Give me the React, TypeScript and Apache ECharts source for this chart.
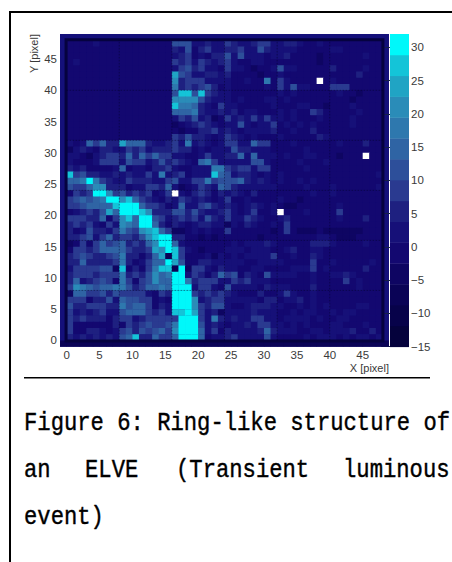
import React, { useEffect, useRef } from "react";
import * as echarts from "echarts";

// Heat-map values, top row (y = 47) first; null = white dead pixel.
const rows: (number | null)[][] = [
/*47*/[0,0,0,0,3,0,0,0,0,0,0,0,0,0,0,0, 11,12,11,2,3,5,3,3,8,5,2,3,5,8,9,1, 3,5,4,1,0,0,1,0,0,-1,0,0,0,0,0,0],
/*46*/[0,0,0,0,0,0,0,0,0,0,0,0,0,0,0,0, 6,3,11,-1,5,9,3,1,6,4,10,1,1,12,4,1, 1,1,2,0,-1,0,-2,-2,1,2,0,0,-1,0,0,0],
/*45*/[0,0,0,0,0,0,0,0,0,0,0,0,0,0,0,0, 3,4,10,0,3,-1,6,4,11,3,12,2,1,3,-2,1, 1,5,0,0,-1,0,-3,-2,0,0,0,0,0,1,0,0],
/*44*/[0,3,0,0,0,0,0,0,0,0,0,0,0,0,0,0, 8,4,7,3,7,5,1,4,9,3,0,-1,2,1,0,-2, 0,-2,-1,0,-2,-2,-3,-1,0,-1,0,0,0,0,0,0],
/*43*/[0,0,0,0,0,0,0,0,0,0,0,0,0,0,0,0, 3,10,11,5,8,1,3,-1,10,1,1,-2,-3,0,-1,1, 12,2,1,0,0,-1,-2,-1,6,0,0,0,0,1,0,-1],
/*42*/[0,0,0,0,0,0,0,0,0,0,0,0,0,0,0,0, 24,11,9,3,3,5,4,1,4,0,0,-1,-2,-3,-1,0, 1,0,0,0,-2,-2,-1,-1,0,-1,0,0,4,0,0,0],
/*41*/[0,0,0,0,0,0,0,0,0,0,0,0,0,0,0,0, 22,6,9,9,10,2,1,3,3,-1,0,1,0,-2,18,-1, 10,2,0,0,0,0,null,0,1,0,0,0,0,0,0,-1],
/*40*/[0,0,0,0,0,0,0,0,0,0,0,0,0,0,0,0, 18,4,10,6,7,11,4,0,2,0,-1,0,-1,-1,3,0, 10,1,13,3,1,0,0,0,7,7,8,0,0,0,-1,0],
/*39*/[0,0,0,0,0,0,0,0,0,0,0,0,0,0,0,0, 13,26,27,12,28,9,5,3,1,-1,0,0,0,-1,0,0, 1,0,1,0,0,0,0,-1,0,1,0,-2,-3,0,0,0],
/*38*/[0,0,0,0,0,0,0,0,0,0,0,0,0,0,0,0, 20,21,22,20,11,6,1,2,3,0,1,0,0,-1,1,1, 0,1,0,0,-1,-1,-1,0,-1,0,0,-3,-1,0,0,-1],
/*37*/[0,0,0,0,0,0,0,0,0,0,0,0,0,0,0,0, 27,18,19,14,6,1,0,7,3,1,-1,0,0,0,0,1, 0,0,0,1,1,-1,-2,-3,0,-1,-2,1,0,0,-1,-2],
/*36*/[0,0,0,0,0,0,0,0,0,0,0,0,0,0,0,0, 15,14,14,17,6,3,3,6,1,4,0,1,3,-1,0,0, 1,0,1,0,-1,7,6,0,0,0,0,0,1,0,0,-1],
/*35*/[0,0,0,0,0,0,0,0,0,0,0,0,0,0,0,0, 3,10,6,12,3,4,-3,0,10,2,6,1,10,2,8,1, 1,-1,1,0,0,0,1,0,-1,0,0,1,0,0,-1,-2],
/*34*/[0,0,0,0,0,0,0,0,0,0,0,0,0,0,0,0, -3,-2,3,6,7,6,3,0,1,2,13,2,0,1,1,10, 0,1,0,1,-1,1,-1,0,0,-1,0,1,0,0,0,-1],
/*33*/[0,0,0,0,0,0,0,0,0,0,0,0,0,0,0,0, -1,-3,-2,0,5,6,7,3,6,3,0,2,1,2,1,6, 0,0,1,0,0,4,0,-1,0,-1,0,0,0,0,0,-2],
/*32*/[0,0,0,0,0,0,0,0,0,0,0,0,0,0,0,0, 8,5,11,5,6,2,0,1,8,4,1,0,2,0,0,-1, 1,0,-1,0,0,0,5,1,0,-1,0,0,0,0,0,0],
/*31*/[3,-2,2,15,7,16,5,6,23,14,14,15,5,2,3,5, 8,2,17,3,6,2,0,1,8,9,1,2,16,8,8,0, 0,0,1,-1,0,-1,0,0,0,1,0,0,0,5,0,-2],
/*30*/[-4,1,4,3,-1,5,4,3,2,9,6,9,3,4,6,6, 9,5,4,0,1,-2,2,3,1,11,5,4,3,1,1,0, -1,-2,0,-1,1,0,0,0,-1,0,0,0,-1,0,0,0],
/*29*/[3,2,0,-3,1,5,8,7,4,15,4,14,9,16,7,9, 2,2,-1,0,2,7,1,3,6,6,14,3,15,1,2,1, 0,1,-1,0,2,1,0,-1,-1,-3,0,0,0,null,0,0],
/*28*/[3,-2,-2,-1,3,7,10,7,3,11,7,9,3,6,12,5, 8,4,2,-1,15,17,7,1,1,1,3,1,12,12,3,0, 0,-2,0,1,0,0,0,1,0,-1,-2,0,0,-1,0,0],
/*27*/[6,3,4,0,-1,-2,-1,1,14,-1,3,2,0,6,4,7, 1,-2,0,1,3,3,17,18,7,6,8,8,2,8,8,0, -1,0,0,0,1,-1,-2,0,0,0,0,0,0,0,-2,0],
/*26*/[27,10,13,6,4,2,1,6,3,5,2,1,10,3,17,3, 4,9,-2,2,1,2,27,14,13,3,5,4,3,0,1,0, 1,0,0,0,0,0,-1,-1,-1,0,0,0,0,-2,0,1],
/*25*/[15,15,17,31,19,8,4,3,3,8,5,4,4,3,2,9, 13,2,1,7,9,18,7,13,11,11,15,6,3,4,2,0, 1,0,0,1,-1,1,0,0,-1,0,0,0,0,-2,-1,0],
/*24*/[13,9,8,15,20,20,6,4,6,0,2,3,8,9,4,15, 2,-3,-2,3,7,4,2,14,11,4,2,3,2,2,1,1, 0,0,-1,0,1,0,0,0,1,0,-1,-1,0,0,0,1],
/*23*/[-2,8,6,9,31,31,20,8,11,5,9,4,7,-2,1,7, null,2,-1,4,8,4,0,4,3,5,1,0,4,0,0,-1, 0,-1,-1,0,0,1,0,0,1,0,-1,-2,0,-2,0,0],
/*22*/[10,13,14,13,14,18,31,31,21,26,15,8,5,3,-1,5, 1,9,4,2,5,3,0,3,8,-1,0,1,0,0,-1,0, 1,-1,-2,-3,0,0,0,0,0,-1,-2,-1,0,0,0,0],
/*21*/[8,10,13,14,15,15,16,26,30,32,31,14,8,9,5,0, 3,15,3,3,8,11,4,1,5,1,0,1,4,1,0,1, -1,-4,-3,0,-1,0,0,-1,0,1,0,-1,-1,0,-1,0],
/*20*/[-1,3,4,10,5,11,25,16,31,32,32,26,22,6,6,5, 13,13,4,12,6,3,2,4,10,3,0,1,7,0,0,1, null,-2,-1,-1,1,0,-1,-1,-1,9,0,0,0,-1,0,0],
/*19*/[8,7,7,5,4,14,0,7,22,26,14,31,31,11,8,3, 6,9,5,8,3,12,6,3,7,3,1,7,5,2,0,-1, 1,4,-1,-1,0,-1,0,0,0,1,0,-1,0,5,0,-1],
/*18*/[5,7,5,9,3,-2,10,3,22,19,15,31,31,16,5,0, 4,3,0,3,5,4,2,1,-5,1,0,4,1,0,0,1, -1,8,-2,-1,0,-2,-1,-1,0,0,0,0,-1,-2,0,-1],
/*17*/[4,-1,3,11,4,6,1,9,18,12,8,20,25,26,15,7, -3,-3,-2,1,0,2,0,0,8,-2,-1,0,-1,-2,-2,-3, -1,7,-2,-4,-3,-3,-1,-3,-3,-3,-3,-3,-3,-2,-1,0],
/*16*/[6,4,9,11,1,7,14,5,10,7,4,11,20,26,32,32, 6,6,0,-1,-3,-2,-3,-2,-1,0,-1,-1,-2,-3,-2,-2, -2,-2,-1,-1,-2,0,1,1,-2,-3,-3,-3,-1,-1,-1,0],
/*15*/[-3,-2,7,0,7,15,7,12,15,6,8,6,14,22,32,32, 15,3,-2,-1,-2,-1,-1,-1,0,1,0,1,1,1,5,3, -1,-1,-1,-2,0,6,5,6,1,0,-1,-1,0,1,0,0],
/*14*/[0,10,10,6,10,14,14,16,14,7,6,5,9,24,20,32, 28,10,2,-1,-3,-2,-2,-1,3,2,1,0,1,2,3,-1, 0,1,5,0,0,1,3,0,0,-1,0,0,-1,0,0,0],
/*13*/[5,7,12,9,4,6,10,11,17,6,4,-2,5,15,23,-8, 28,7,-2,0,0,1,-3,1,0,2,0,1,1,2,1,10, 0,0,1,0,0,5,1,0,0,0,0,0,0,0,-1,0],
/*12*/[4,5,14,5,5,6,6,10,18,5,0,3,10,16,16,32, 24,12,-1,-1,6,5,2,1,3,1,1,0,-1,2,1,1, 1,0,0,0,0,9,0,0,1,0,0,0,0,0,3,0],
/*11*/[3,9,8,7,10,11,11,-3,26,0,5,-2,7,18,26,26, -7,32,-3,8,9,2,0,4,3,1,0,-1,2,1,-1,0, 0,0,1,2,2,9,0,1,0,0,0,0,0,6,0,0],
/*10*/[6,8,7,10,5,9,10,10,17,4,7,4,13,21,16,17, 32,32,2,7,4,-1,6,15,10,11,0,6,2,0,11,1, 1,2,1,0,0,1,0,0,1,1,4,1,0,0,0,0],
/*9*/ [5,14,1,5,8,11,9,0,17,7,0,9,11,20,15,16, 32,32,19,4,8,9,7,2,1,9,5,10,1,1,1,-1, 0,0,0,0,0,1,0,0,0,0,8,0,2,0,0,0],
/*8*/ [7,22,18,15,12,15,16,17,18,12,5,10,14,16,17,16, 32,32,31,3,10,7,1,0,13,3,2,2,2,0,4,3, 1,1,0,0,0,5,0,0,0,0,0,0,1,0,0,0],
/*7*/ [-3,16,14,7,7,11,6,11,10,7,8,8,3,0,7,4, 32,32,32,10,5,8,5,9,6,2,0,-1,0,4,0,0, 2,10,1,0,0,1,0,0,0,0,0,0,0,0,0,0],
/*6*/ [9,9,8,0,5,4,11,1,16,11,11,9,7,0,1,-2, 32,32,32,20,1,6,9,8,3,1,1,2,3,0,6,5, 0,1,1,5,0,2,0,0,0,0,0,0,0,0,0,0],
/*5*/ [11,5,4,7,10,9,5,5,17,12,15,16,7,0,5,1, 32,32,32,22,7,4,12,13,1,0,-1,2,6,4,4,3, 1,0,0,1,0,3,0,1,0,0,0,0,2,1,0,0],
/*4*/ [7,3,4,3,6,8,2,2,12,14,16,14,9,6,7,3, 26,26,32,24,8,1,5,-3,1,3,1,1,4,3,2,1, 0,0,1,0,1,1,0,0,1,0,1,3,0,0,0,0],
/*3*/ [9,6,7,5,4,5,-1,5,10,7,1,6,7,9,10,8, 7,32,32,32,9,1,19,4,3,4,1,3,9,9,3,1, 0,1,1,1,2,0,1,0,0,3,1,0,0,0,0,0],
/*2*/ [7,-1,-1,-1,0,-2,-1,4,-2,9,5,9,12,7,9,12, 18,32,32,32,12,2,4,3,0,2,2,4,3,8,9,3, 1,0,1,0,1,0,0,0,2,1,0,0,0,1,0,0],
/*1*/ [7,-2,-2,4,5,1,0,1,9,12,5,13,9,11,14,10, 21,32,32,32,16,3,8,-1,6,1,3,1,1,4,14,4, 1,1,2,0,0,1,2,0,1,1,3,4,0,0,4,0],
/*0*/ [6,2,4,3,5,2,5,1,12,16,26,5,6,16,10,9, 15,32,32,32,16,-2,3,1,6,9,1,3,3,3,13,2, 0,0,0,0,1,0,1,3,1,0,2,0,1,1,0,1],
];

const xTickLabels = [0, 5, 10, 15, 20, 25, 30, 35, 40, 45];
const yTickLabels = [0, 5, 10, 15, 20, 25, 30, 35, 40, 45];
const colorTicks = [-15, -10, -5, 0, 5, 10, 15, 20, 25, 30];
const gridDots = [8, 16, 24, 32, 40];
const colorMin = -15;
const colorMax = 32;
const bandColors = [
  "#05023c", "#07024a", "#0a0356", "#0e0562", "#130870",
  "#161078", "#1e2080", "#2a3a90", "#2d4f9a", "#2f64a4",
  "#2e78ae", "#2a8cb8", "#20a4c4", "#14c4d8", "#00f8fa",
];

const bandWidth = (colorMax - colorMin) / bandColors.length;
const colorOf = (v: number) => {
  const i = Math.min(bandColors.length - 1, Math.max(0, Math.floor((v - colorMin) / bandWidth)));
  return bandColors[i];
};

const cells: any[] = [];
rows.forEach((row, ri) => {
  const y = rows.length - 1 - ri;
  row.forEach((v, x) => cells.push([x, y, v === null ? 999 : v]));
});
// underflow strip below the map
for (let x = -1; x < 49; x++) cells.push([x, -1, -7]);

const captionFont = '"Liberation Mono", "DejaVu Sans Mono", monospace';
const axisFont = '"Liberation Sans", Arial, sans-serif';
const caption = (text: string, x: number, y: number) => ({
  type: "text", x, y, scaleY: 1.18,
  style: { text, font: `22.2px ${captionFont}`, fill: "#000", stroke: "#000", lineWidth: 0.35 },
});

export default function App() {
  const ref = useRef<HTMLDivElement>(null);
  useEffect(() => {
    const chart = echarts.init(ref.current!, null, { renderer: "svg" });
    const labelStyle = { color: "#3a3a3a", fontSize: 11.5, fontFamily: axisFont };
    chart.setOption({
      animation: false,
      backgroundColor: "#fff",
      grid: [
        { left: 60, top: 34, width: 329, height: 312.7, show: true, backgroundColor: "#14107a", borderWidth: 0 },
        { left: 390, top: 34, width: 19, height: 312.7, show: false },
      ],
      xAxis: [
        {
          gridIndex: 0, type: "value", min: -1, max: 49,
          axisLine: { show: false }, axisTick: { show: false }, splitLine: { show: false },
          axisLabel: { ...labelStyle, customValues: xTickLabels, margin: 2 },
          name: "X [pixel]", nameLocation: "end", nameGap: 0, nameMoveOverlap: false,
          nameTextStyle: { ...labelStyle, fontSize: 11, align: "right", verticalAlign: "top", padding: [22, 0, 0, 0] },
        },
        { gridIndex: 1, type: "value", min: 0, max: 1, show: false },
      ],
      yAxis: [
        {
          gridIndex: 0, type: "value", min: -1, max: 49,
          axisLine: { show: false }, axisTick: { show: false }, splitLine: { show: false },
          axisLabel: { ...labelStyle, customValues: yTickLabels, margin: 3 },
          name: "Y [pixel]", nameLocation: "end", nameGap: 0, nameRotate: 90, nameMoveOverlap: false,
          nameTextStyle: { ...labelStyle, fontSize: 11, align: "right", verticalAlign: "bottom", padding: [0, 0, 27, 0] },
        },
        {
          gridIndex: 1, type: "value", position: "right", min: colorMin, max: colorMax,
          axisLine: { show: false },
          axisTick: { show: true, inside: true, length: 9, customValues: colorTicks, lineStyle: { color: "#15204a", width: 1 } },
          splitLine: { show: false },
          axisLabel: {
            ...labelStyle, customValues: colorTicks, margin: 2,
            formatter: (v: number) => String(v).replace("-", "\u2212"),
          },
        },
      ],
      series: [
        {
          type: "custom", xAxisIndex: 0, yAxisIndex: 0, data: cells, clip: true, silent: true,
          encode: { x: 0, y: 1 },
          renderItem: (_p: any, api: any) => {
            const x = api.value(0), y = api.value(1), v = api.value(2);
            const a = api.coord([x, y + 1]);
            const b = api.coord([x + 1, y]);
            return {
              type: "rect",
              shape: { x: a[0], y: a[1], width: b[0] - a[0] + 0.4, height: b[1] - a[1] + 0.4 },
              style: { fill: v === 999 ? "#ffffff" : colorOf(v) },
            };
          },
        },
        {
          // dark frame around the pixel area
          type: "custom", xAxisIndex: 0, yAxisIndex: 0, data: [[0, 48]], silent: true, z: 3,
          encode: { x: 0, y: 1 },
          renderItem: (_p: any, api: any) => {
            const a = api.coord([0, 48]);
            const b = api.coord([48, 0]);
            return {
              type: "rect",
              shape: { x: a[0] - 0.5, y: a[1] - 0.5, width: b[0] - a[0] + 1, height: b[1] - a[1] + 1 },
              style: { fill: "none", stroke: "#05023f", lineWidth: 3 },
            };
          },
        },
        {
          // dotted grid lines
          type: "custom", xAxisIndex: 0, yAxisIndex: 0, data: gridDots.map((p) => [p, p]), silent: true, z: 4,
          encode: { x: 0, y: 1 },
          renderItem: (_p: any, api: any) => {
            const p = api.value(0);
            const s = api.coord([0, 0]);
            const e = api.coord([48, 48]);
            const c = api.coord([p, p]);
            const style = { stroke: "rgba(0,0,30,0.4)", lineWidth: 1, lineDash: [1.5, 1.5], fill: "none" };
            return {
              type: "group",
              children: [
                { type: "line", shape: { x1: c[0], y1: s[1], x2: c[0], y2: e[1] }, style },
                { type: "line", shape: { x1: s[0], y1: c[1], x2: e[0], y2: c[1] }, style },
              ],
            };
          },
        },
        {
          // colour bar
          type: "custom", xAxisIndex: 1, yAxisIndex: 1, silent: true,
          data: bandColors.map((_c, i) => [i, colorMin + i * bandWidth, colorMin + (i + 1) * bandWidth]),
          encode: { y: [1, 2] },
          renderItem: (_p: any, api: any) => {
            const a = api.coord([0, api.value(2)]);
            const b = api.coord([1, api.value(1)]);
            return {
              type: "rect",
              shape: { x: a[0], y: a[1], width: b[0] - a[0], height: b[1] - a[1] + 0.4 },
              style: { fill: bandColors[api.value(0)] },
            };
          },
        },
      ],
      graphic: [
        { type: "rect", shape: { x: 9, y: 11, width: 443, height: 2 }, style: { fill: "#000" } },
        { type: "rect", shape: { x: 9, y: 11, width: 2, height: 551 }, style: { fill: "#000" } },
        { type: "rect", shape: { x: 24, y: 377, width: 406, height: 1.5 }, style: { fill: "#000" } },
        caption("Figure 6: Ring-like structure of", 24, 410),
        caption("an", 24, 457),
        caption("ELVE", 85, 457),
        caption("(Transient", 176, 457),
        caption("luminous", 343, 457),
        caption("event)", 24, 504),
      ],
    });
    return () => chart.dispose();
  }, []);
  return <div ref={ref} style={{ position: "absolute", left: 0, top: 0, width: 452, height: 562 }} />;
}
